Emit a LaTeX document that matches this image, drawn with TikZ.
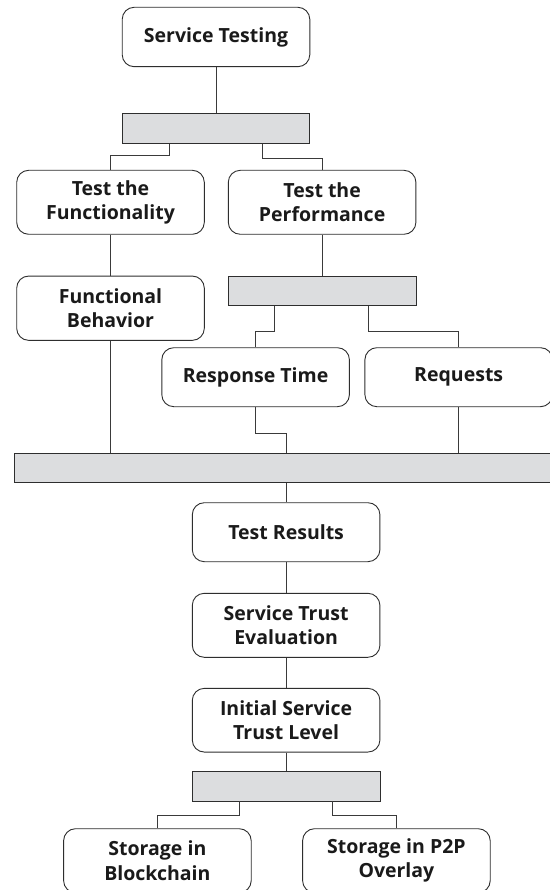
\documentclass[tikz,border=0pt]{standalone}
\usepackage{fontspec}
\setmainfont{Open Sans}
\usetikzlibrary{calc}
\definecolor{bord}{HTML}{2E2E2E}
\definecolor{linec}{HTML}{3A3A3A}
\definecolor{barfill}{HTML}{DCDDDF}
\definecolor{txt}{HTML}{1A1A1A}
\begin{document}
\begin{tikzpicture}[x=1pt,y=-1pt,
  box/.style={draw=bord, line width=0.9pt, rounded corners=12pt, fill=white,
    minimum width=187.6pt, align=center, inner sep=0pt, text=txt,
    font=\bfseries\fontsize{19.5}{24.3}\selectfont},
  bar/.style={draw=bord, line width=0.9pt, fill=barfill, minimum height=29.4pt, inner sep=0pt},
  conn/.style={draw=linec, line width=0.8pt}]
\useasboundingbox (0,0) rectangle (549,890);
\fill[white] (0,0) rectangle (549,890);

\node[box, minimum height=59.4pt] (st) at (216.0,37.0) {Service Testing};
\node[bar, minimum width=187.7pt] (bar1) at (216.0,128.5) {};
\node[box, minimum height=64pt] (tf) at (110.5,202.3) {Test the\\Functionality};
\node[box, minimum height=64pt] (tp) at (322.1,202.3) {Test the\\Performance};
\node[box, minimum height=64.3pt] (fb) at (110.5,308.2) {Functional\\Behavior};
\node[bar, minimum width=187.7pt] (bar2) at (322.1,290.7) {};
\node[box, minimum height=59pt] (rt) at (255.6,377.2) {Response Time};
\node[box, minimum height=59pt] (rq) at (458.7,377.2) {Requests};
\node[bar, minimum width=546pt] (bar3) at (287.0,467.7) {};
\node[box, minimum height=59pt] (tr) at (286.1,532.2) {Test Results};
\node[box, minimum height=64pt] (ste) at (286.1,625.3) {Service Trust\\Evaluation};
\node[box, minimum height=63.7pt] (istl) at (286.1,720.2) {Initial Service\\Trust Level};
\node[bar, minimum width=187.7pt] (bar4) at (286.1,786.3) {};
\node[box, minimum height=64pt] (sb) at (157.4,860.7) {Storage in\\Blockchain};
\node[box, minimum height=64pt] (sp) at (396.4,860.7) {Storage in P2P\\Overlay};

\draw[conn] (st.south) -- (bar1.north);
\draw[conn] ($(bar1.south west)+(47.6,0)$) -- ++(0,12) -| (tf.north);
\draw[conn] ($(bar1.south west)+(140.8,0)$) -- ++(0,14.7) -| (tp.north);
\draw[conn] (tf.south) -- (fb.north);
\draw[conn] (tp.south) -- (bar2.north);
\draw[conn] ($(bar2.south west)+(46.9,0)$) -- ++(0,25.4) -| (rt.north);
\draw[conn] ($(bar2.south west)+(140.7,0)$) -- ++(0,25.4) -| (rq.north);
\draw[conn] (fb.south) -- (fb.south |- bar3.north);
\draw[conn] (rt.south) -- ++(0,26.6) -| (tr.north |- bar3.north);
\draw[conn] (rq.south) -- (rq.south |- bar3.north);
\draw[conn] (tr.north |- bar3.south) -- (tr.north);
\draw[conn] (tr.south) -- (ste.north);
\draw[conn] (ste.south) -- (istl.north);
\draw[conn] (istl.south) -- (bar4.north);
\draw[conn] ($(bar4.south west)+(47.3,0)$) -- ++(0,14.3) -| (sb.north);
\draw[conn] ($(bar4.south west)+(140.4,0)$) -- ++(0,14.3) -| (sp.north);
\end{tikzpicture}
\end{document}
